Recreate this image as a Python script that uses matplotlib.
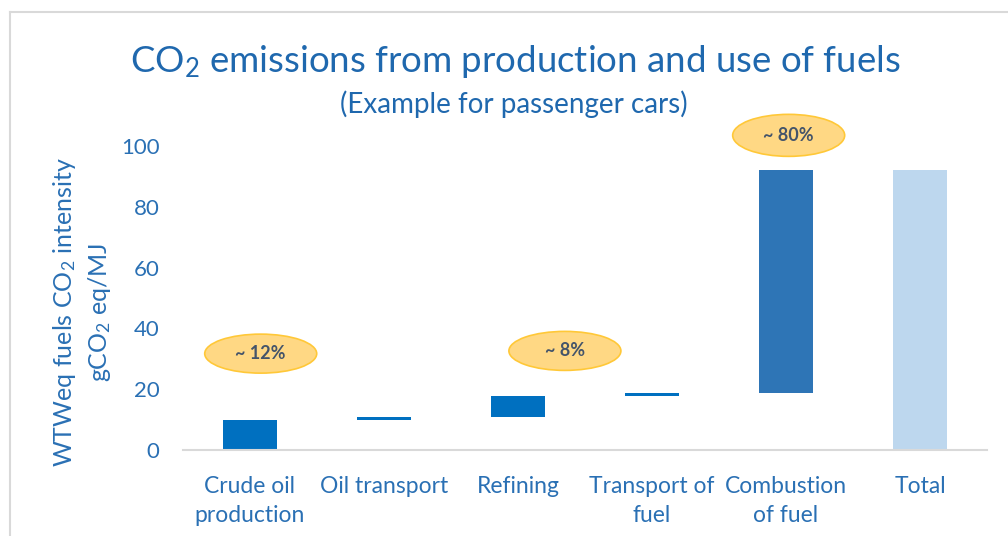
import numpy as np
import matplotlib
matplotlib.use("Agg")
import matplotlib.pyplot as plt
from matplotlib.patches import Ellipse
from matplotlib.lines import Line2D

plt.rcParams['font.family'] = ['Lato', 'DejaVu Sans']
plt.rcParams['mathtext.fontset'] = 'custom'
plt.rcParams['mathtext.rm'] = 'Lato'
plt.rcParams['mathtext.it'] = 'Lato:italic'
plt.rcParams['mathtext.bf'] = 'Lato:bold'

# ---- data ----
categories = ["Crude oil\nproduction", "Oil transport", "Refining",
              "Transport of\nfuel", "Combustion\nof fuel", "Total"]
step_values = [10.0, 0.8, 6.8, 1.2, 73.2]      # gCO2 eq/MJ per stage
total_value = 92.0
yticks = [0, 20, 40, 60, 80, 100]
share_labels = ["~ 12%", "~ 8%", "~ 80%"]
share_positions = [(0.08, 31.7), (2.35, 32.6), (4.02, 103.5)]  # annotation placement

bar_colors = ["#0070C0", "#0070C0", "#0070C0", "#0070C0", "#2E75B6", "#BDD7EE"]

bottoms = list(np.concatenate([[0.0], np.cumsum(step_values)[:-1]])) + [0.0]
heights = list(step_values) + [total_value]

label_color = "#2A70B4"
title_color = "#1F68AE"

fig = plt.figure(figsize=(10.08, 5.36), dpi=100)
ax = fig.add_axes([183/1008, (536-450)/536, 804/1008, 304/536])

x = np.arange(len(categories))
ax.bar(x, heights, bottom=bottoms, width=0.40, color=bar_colors, edgecolor='none', zorder=2)

ax.set_xlim(-0.5, len(categories) - 0.5)
ax.set_ylim(0, 100)
ax.set_yticks(yticks)
ax.set_yticklabels([str(v) for v in yticks], fontsize=16, color=label_color)
ax.set_xticks(x)
ax.set_xticklabels(categories, fontsize=16.5, color=label_color, linespacing=1.45, va='top')
ax.tick_params(axis='y', length=0, pad=17)
ax.tick_params(axis='x', length=0, pad=19)

for s in ['top', 'right', 'left']:
    ax.spines[s].set_visible(False)
ax.spines['bottom'].set_color('#D9D9D9')
ax.spines['bottom'].set_linewidth(1.5)

# share annotations (ellipses)
px_per_x = 134.0
px_per_y = 3.04
for lab, (cx, cy) in zip(share_labels, share_positions):
    w = 112 / px_per_x
    h = (42 if lab == "~ 80%" else 39) / px_per_y
    e = Ellipse((cx, cy), w, h, facecolor='#FFD884', edgecolor='#FFC838',
                linewidth=1.2, clip_on=False, zorder=3)
    ax.add_patch(e)
    ax.text(cx, cy, lab, ha='center', va='center', fontsize=13, fontweight='bold',
            color='#44546A', zorder=4, clip_on=False)

# titles
fig.text(515/1008, (536-72)/536, r"CO$_{\mathregular{2}}$ emissions from production and use of fuels",
         ha='center', va='baseline', fontsize=26.4, color=title_color)
fig.text(514/1008, (536-113)/536, "(Example for passenger cars)",
         ha='center', va='baseline', fontsize=20, color=title_color)

# y label (two lines)
fig.text(82/1008, (536-312)/536,
         "WTWeq fuels CO$_{\\mathregular{2}}$ intensity\ngCO$_{\\mathregular{2}}$ eq/MJ",
         rotation=90, ha='center', va='center', multialignment='center',
         fontsize=18, color=label_color, linespacing=1.35)

# frame border (top and left)
fig.add_artist(Line2D([10/1008, 1.0], [(536-12)/536, (536-12)/536],
                      transform=fig.transFigure, color='#D9D9D9', linewidth=1.5))
fig.add_artist(Line2D([10/1008, 10/1008], [0.0, (536-12)/536],
                      transform=fig.transFigure, color='#D9D9D9', linewidth=1.5))

fig.savefig("out.png", dpi=100)
